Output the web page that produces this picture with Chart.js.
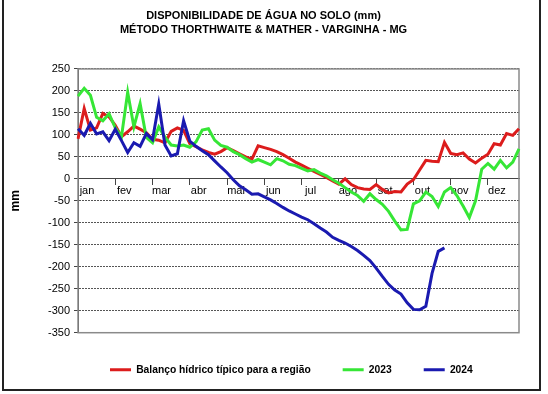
<!DOCTYPE html>
<html>
<head>
<meta charset="utf-8">
<script src="https://cdn.jsdelivr.net/npm/chart.js@4"></script>
<style>
html, body { margin: 0; padding: 0; background: #fff; }
#quadro { position: relative; width: 548px; height: 394px; overflow: hidden; }
#moldura { position: absolute; left: 2px; top: -3px; width: 539px; height: 394px; border: 2px solid #222; box-sizing: border-box; pointer-events: none; }
</style>
</head>
<body>
<div id="quadro">
  <canvas id="grafico" width="548" height="394"></canvas>
  <div id="moldura"></div>
</div>
<script>
// Meses (cada um com 6 pentadas)
const meses = ["jan", "fev", "mar", "abr", "mai", "jun", "jul", "ago", "set", "out", "nov", "dez"];

// Balanço hídrico típico para a região
const balancoTipico = [91, 160, 111, 116, 149, 141, 122, 96, 107, 120,
    113, 105, 90, 88, 82, 108, 116, 110, 80, 73,
    66, 60, 56, 62, 71, 64, 57, 50, 45, 75,
    71, 67, 62, 55, 47, 38, 31, 24, 17, 10,
    3, -5, -12, 0, -13, -20, -23, -24, -13, -24,
    -32, -29, -30, -12, -2, 20, 42, 40, 39, 83,
    58, 55, 59, 45, 36, 47, 56, 80, 77, 103,
    99, 114];

// 2023
const ano2023 = [188, 206, 190, 140, 132, 148, 116, 96, 197, 118,
    171, 94, 82, 118, 95, 77, 75, 77, 72, 84,
    111, 114, 88, 76, 72, 62, 55, 46, 38, 44,
    38, 32, 46, 41, 33, 30, 24, 18, 21, 13,
    7, -2, -10, -20, -30, -38, -51, -34, -47, -58,
    -74, -96, -116, -115, -57, -50, -30, -40, -63, -30,
    -20, -38, -62, -88, -50, 22, 35, 22, 42, 25,
    38, 68];

// 2024 (até início de novembro)
const ano2024 = [114, 99, 126, 102, 107, 87, 113, 87, 60, 82,
    74, 103, 89, 170, 77, 52, 57, 132, 86, 74,
    64, 55, 41, 27, 14, -2, -16, -25, -35, -34,
    -41, -48, -56, -65, -73, -80, -87, -93, -102, -112,
    -121, -133, -140, -146, -154, -163, -174, -186, -203, -222,
    -240, -253, -262, -282, -297, -298, -290, -215, -165, -157,
    null, null, null, null, null, null, null, null, null, null,
    null, null];

// Categorias: 6 pentadas por mês
const pentadas = [];
meses.forEach(function (m) {
    for (let p = 1; p <= 6; p++) {
        pentadas.push(m + " " + p);
    }
});

Chart.defaults.font.family = '"Liberation Sans", Arial, sans-serif';
Chart.defaults.color = "#000";

// Moldura cinza da área de plotagem
const molduraArea = {
    id: "molduraArea",
    beforeDatasetsDraw(chart) {
        const a = chart.chartArea;
        const ctx = chart.ctx;
        ctx.save();
        ctx.strokeStyle = "#8a8a8a";
        ctx.lineWidth = 1.5;
        ctx.strokeRect(a.left, a.top, a.right - a.left, a.bottom - a.top);
        ctx.restore();
    }
};

new Chart("grafico", {
    type: "line",
    data: {
        labels: pentadas,
        datasets: [{
            label: "Balanço hídrico típico para a região",
            data: balancoTipico,
            borderColor: "#dc1c1c",
            backgroundColor: "#dc1c1c",
            order: 3
        }, {
            label: "2023",
            data: ano2023,
            borderColor: "#36e636",
            backgroundColor: "#36e636",
            order: 2
        }, {
            label: "2024",
            data: ano2024,
            borderColor: "#1a1ab0",
            backgroundColor: "#1a1ab0",
            order: 1
        }]
    },
    options: {
        responsive: false,
        animation: false,
        devicePixelRatio: 1,
        layout: { padding: { left: 8, right: 29, top: 0, bottom: 9 } },
        elements: {
            point: { radius: 0 },
            line: { borderWidth: 3, tension: 0 }
        },
        scales: {
            x: {
                type: "category",
                position: { y: 0 },
                offset: false,
                grid: {
                    drawOnChartArea: false,
                    drawTicks: true,
                    tickLength: 6,
                    tickColor: function (c) { return c.index % 6 === 0 ? "#444" : "rgba(0,0,0,0)"; }
                },
                border: { display: true, color: "#444", width: 1 },
                ticks: {
                    autoSkip: false,
                    maxRotation: 0,
                    minRotation: 0,
                    padding: 0,
                    labelOffset: 9,
                    font: { size: 11 },
                    callback: function (v, i) { return i % 6 === 0 ? meses[i / 6] : ""; }
                }
            },
            y: {
                min: -350,
                max: 250,
                ticks: { stepSize: 50, padding: 4, font: { size: 11 } },
                grid: { color: "#555", lineWidth: 1, tickLength: 4, tickColor: "#444", tickBorderDash: [] },
                border: { display: true, color: "#444", dash: [2, 1] },
                title: { display: true, text: "mm", font: { size: 12, weight: "bold" }, padding: { top: 0, bottom: 0 } },
                afterFit: function (s) { s.width = 70; }
            }
        },
        plugins: {
            title: {
                display: true,
                text: ["DISPONIBILIDADE DE ÁGUA NO SOLO (mm)", "MÉTODO THORTHWAITE & MATHER - VARGINHA - MG"],
                font: { size: 11, weight: "bold", lineHeight: 1.27 },
                color: "#000",
                padding: { top: 9, bottom: 32 }
            },
            legend: {
                position: "bottom",
                align: "start",
                fullSize: false,
                labels: {
                    boxWidth: 21,
                    boxHeight: 3,
                    padding: 32,
                    color: "#000",
                    font: { size: 10.3, weight: "bold" },
                    sort: function (a, b) { return a.datasetIndex - b.datasetIndex; },
                    generateLabels: function (chart) {
                        return Chart.defaults.plugins.legend.labels.generateLabels(chart).map(function (l) {
                            l.lineWidth = 0;
                            return l;
                        });
                    }
                }
            },
            tooltip: { enabled: false }
        }
    },
    plugins: [molduraArea]
});
</script>
</body>
</html>
